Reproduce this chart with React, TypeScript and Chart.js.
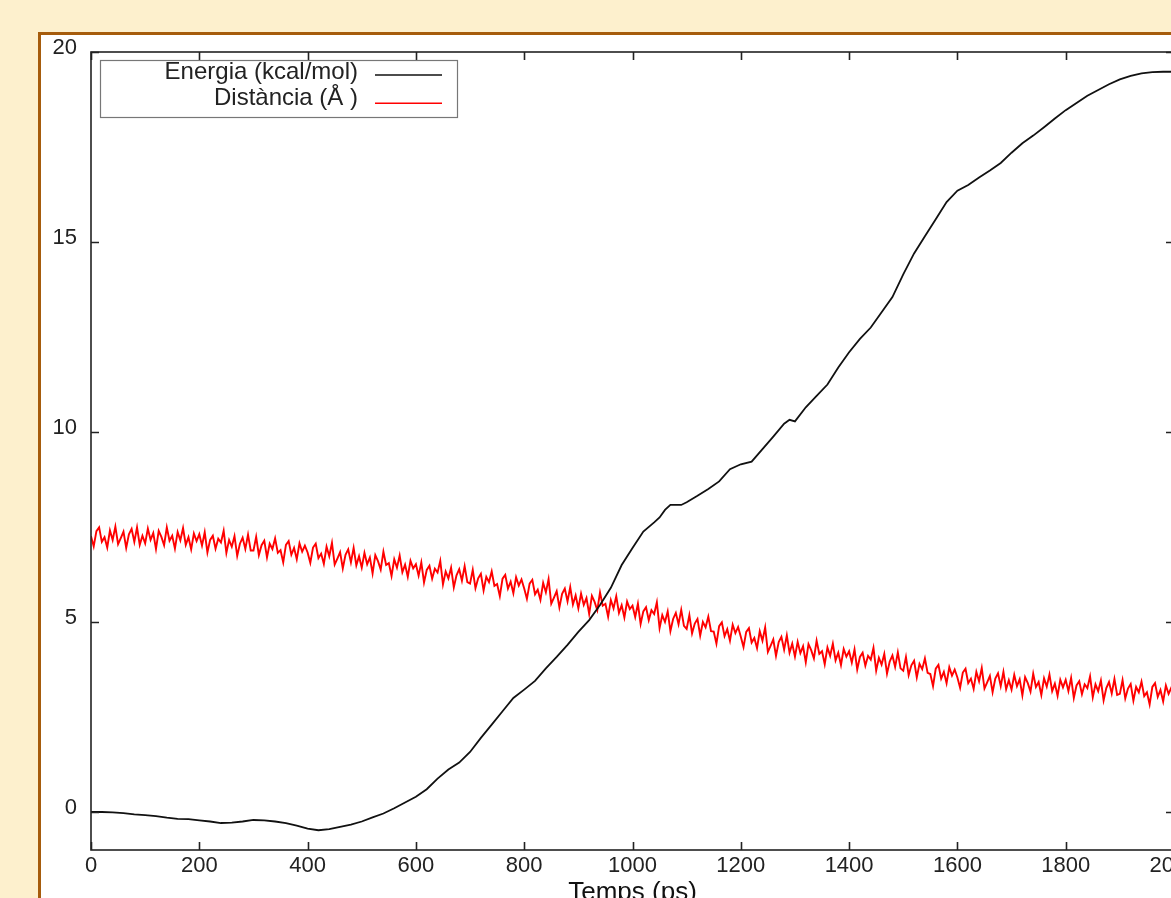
import React, { useEffect, useRef } from 'react';
import { Chart, registerables } from 'chart.js';

Chart.register(...registerables);

// ---------- data ----------
const SERIES_LABELS = ['Energia (kcal/mol)', 'Distància (Å )'];
const X_TITLE = 'Temps (ps)';
const X_TICKS = [0, 200, 400, 600, 800, 1000, 1200, 1400, 1600, 1800, 2000];
const Y_TICKS = [0, 5, 10, 15, 20];

const TIME_E = [
  0, 20, 40, 60, 80, 100, 120, 140, 160, 180,
  200, 220, 240, 260, 280, 300, 320, 340, 360, 380,
  400, 420, 440, 460, 480, 500, 520, 540, 560, 580,
  600, 620, 640, 660, 680, 700, 720, 740, 760, 780,
  800, 820, 840, 860, 880, 900, 920, 940, 960, 980,
  1000, 1020, 1040, 1050, 1060, 1070, 1090, 1100, 1120, 1140,
  1160, 1180, 1200, 1220, 1240, 1260, 1280, 1290, 1300, 1320,
  1340, 1360, 1380, 1400, 1420, 1440, 1460, 1480, 1500, 1520,
  1540, 1560, 1580, 1600, 1620, 1640, 1660, 1680, 1700, 1720,
  1740, 1760, 1780, 1800, 1820, 1840, 1860, 1880, 1900, 1920,
  1940, 1960, 1980, 2000,
];
const ENERGY = [
  0.0, 0.0, -0.01, -0.03, -0.06, -0.08, -0.11, -0.15, -0.18, -0.19,
  -0.22, -0.25, -0.29, -0.28, -0.25, -0.21, -0.22, -0.25, -0.29, -0.36,
  -0.44, -0.48, -0.45, -0.39, -0.33, -0.25, -0.14, -0.04, 0.10, 0.25,
  0.40, 0.60, 0.88, 1.12, 1.30, 1.58, 1.95, 2.30, 2.65, 3.00,
  3.22, 3.45, 3.78, 4.08, 4.40, 4.74, 5.05, 5.45, 5.90, 6.50,
  6.95, 7.38, 7.62, 7.75, 7.95, 8.08, 8.08, 8.15, 8.32, 8.50,
  8.70, 9.02, 9.15, 9.22, 9.55, 9.88, 10.22, 10.32, 10.28, 10.65,
  10.95, 11.25, 11.70, 12.10, 12.45, 12.75, 13.15, 13.55, 14.15, 14.70,
  15.15, 15.60, 16.05, 16.35, 16.50, 16.70, 16.88, 17.08, 17.35, 17.60,
  17.80, 18.02, 18.25, 18.47, 18.66, 18.85, 19.00, 19.15, 19.28, 19.37,
  19.44, 19.47, 19.48, 19.48,
];

// distance sampled every 5 ps from 0 to 2000 ps
const DIST_STEP_PS = 5;
const DISTANCE = [
  7.26, 6.99, 7.39, 7.49, 7.11, 7.23, 6.96, 7.41, 7.16, 7.51, 7.05, 7.21, 7.38, 6.95, 7.31, 7.45, 7.11, 7.49, 7.03, 7.27,
  7.07, 7.46, 7.16, 7.34, 6.92, 7.40, 7.24, 7.02, 7.49, 7.14, 7.27, 6.93, 7.37, 7.15, 7.47, 7.03, 7.23, 6.91, 7.33, 7.13,
  7.31, 7.01, 7.36, 6.83, 7.16, 7.27, 6.93, 7.19, 7.09, 7.40, 6.82, 7.16, 6.98, 7.26, 6.74, 7.06, 7.22, 6.92, 7.30, 6.88,
  6.88, 7.24, 6.76, 7.02, 7.14, 6.70, 7.06, 6.92, 7.20, 6.82, 6.89, 6.57, 7.03, 7.13, 6.77, 6.95, 6.65, 7.07, 6.85, 7.01,
  6.83, 6.56, 6.96, 7.06, 6.68, 6.80, 6.53, 6.98, 6.73, 7.08, 6.51, 6.67, 6.84, 6.41, 6.77, 6.91, 6.57, 6.95, 6.49, 6.73,
  6.43, 6.82, 6.52, 6.70, 6.28, 6.76, 6.60, 6.38, 6.85, 6.50, 6.55, 6.21, 6.65, 6.43, 6.75, 6.31, 6.51, 6.19, 6.61, 6.41,
  6.52, 6.22, 6.57, 6.04, 6.37, 6.48, 6.14, 6.40, 6.30, 6.61, 5.99, 6.33, 6.15, 6.43, 5.91, 6.23, 6.39, 6.09, 6.47, 6.05,
  6.01, 6.37, 5.89, 6.15, 6.27, 5.83, 6.19, 6.05, 6.33, 5.95, 6.00, 5.68, 6.14, 6.24, 5.88, 6.06, 5.76, 6.18, 5.96, 6.12,
  5.88, 5.61, 6.01, 6.11, 5.73, 5.85, 5.58, 6.03, 5.78, 6.13, 5.48, 5.64, 5.81, 5.38, 5.74, 5.88, 5.54, 5.92, 5.46, 5.70,
  5.36, 5.75, 5.45, 5.63, 5.21, 5.69, 5.53, 5.31, 5.78, 5.43, 5.48, 5.14, 5.58, 5.36, 5.68, 5.24, 5.44, 5.12, 5.54, 5.34,
  5.43, 5.13, 5.48, 4.95, 5.28, 5.39, 5.05, 5.31, 5.21, 5.52, 4.84, 5.18, 5.00, 5.28, 4.76, 5.08, 5.24, 4.94, 5.32, 4.90,
  4.82, 5.18, 4.70, 4.96, 5.08, 4.64, 5.00, 4.86, 5.14, 4.76, 4.75, 4.43, 4.89, 4.99, 4.63, 4.81, 4.51, 4.93, 4.71, 4.87,
  4.61, 4.34, 4.74, 4.84, 4.46, 4.58, 4.31, 4.76, 4.51, 4.86, 4.21, 4.37, 4.54, 4.11, 4.47, 4.61, 4.27, 4.65, 4.19, 4.43,
  4.09, 4.48, 4.18, 4.36, 3.94, 4.42, 4.26, 4.04, 4.51, 4.16, 4.23, 3.89, 4.33, 4.11, 4.43, 3.99, 4.19, 3.87, 4.29, 4.09,
  4.23, 3.93, 4.28, 3.75, 4.08, 4.19, 3.85, 4.11, 4.01, 4.32, 3.72, 4.06, 3.88, 4.16, 3.64, 3.96, 4.12, 3.82, 4.20, 3.78,
  3.72, 4.08, 3.60, 3.86, 3.98, 3.54, 3.90, 3.76, 4.04, 3.66, 3.63, 3.31, 3.77, 3.87, 3.51, 3.69, 3.39, 3.81, 3.59, 3.75,
  3.54, 3.27, 3.67, 3.77, 3.39, 3.51, 3.24, 3.69, 3.44, 3.79, 3.25, 3.41, 3.58, 3.15, 3.51, 3.65, 3.31, 3.69, 3.23, 3.47,
  3.22, 3.61, 3.31, 3.49, 3.07, 3.55, 3.39, 3.17, 3.64, 3.29, 3.42, 3.08, 3.52, 3.30, 3.62, 3.18, 3.38, 3.06, 3.48, 3.28,
  3.48, 3.18, 3.53, 3.00, 3.33, 3.44, 3.10, 3.36, 3.26, 3.57, 3.02, 3.36, 3.18, 3.46, 2.94, 3.26, 3.42, 3.12, 3.50, 3.08,
  3.11, 3.47, 2.99, 3.25, 3.37, 2.93, 3.29, 3.15, 3.43, 3.05, 3.15, 2.83, 3.29, 3.39, 3.03, 3.21, 2.91, 3.33, 3.11, 3.27,
  3.10,
];

const SERIES_COLORS = ['#111111', '#ff0000'];
const FONT_FAMILY = '"Liberation Sans", Arial, sans-serif';

// ---------- plugin: gnuplot-like frame, inward ticks and legend ----------
const gnuplotFrame = {
  id: 'gnuplotFrame',
  afterDatasetsDraw(chart: any) {
    const { ctx, chartArea: a, scales } = chart;
    const xs = scales.x;
    const ys = scales.y;
    ctx.save();
    ctx.strokeStyle = '#222';
    ctx.lineWidth = 1.6;
    ctx.strokeRect(a.left, a.top, a.right - a.left, a.bottom - a.top);

    ctx.beginPath();
    const L = 8;
    X_TICKS.forEach((v) => {
      const x = Math.round(xs.getPixelForValue(v)) + 0.5;
      ctx.moveTo(x, a.bottom);
      ctx.lineTo(x, a.bottom - L);
      ctx.moveTo(x, a.top);
      ctx.lineTo(x, a.top + L);
    });
    Y_TICKS.forEach((v) => {
      const y = Math.round(ys.getPixelForValue(v)) + 0.5;
      ctx.moveTo(a.left, y);
      ctx.lineTo(a.left + L, y);
      ctx.moveTo(a.right, y);
      ctx.lineTo(a.right - L, y);
    });
    ctx.stroke();

    // legend box
    const bx = a.left + 9;
    const by = a.top + 8;
    const bw = 357;
    const bh = 57;
    ctx.fillStyle = '#fff';
    ctx.fillRect(bx, by, bw, bh);
    ctx.strokeStyle = '#777';
    ctx.lineWidth = 1.2;
    ctx.strokeRect(bx + 0.5, by + 0.5, bw, bh);

    ctx.font = '24px ' + FONT_FAMILY;
    ctx.textAlign = 'right';
    ctx.textBaseline = 'alphabetic';
    const rows = [
      { base: by + 18.5, line: by + 15 },
      { base: by + 45, line: by + 43.3 },
    ];
    chart.data.datasets.forEach((ds: any, i: number) => {
      const r = rows[i];
      ctx.fillStyle = '#222';
      ctx.fillText(ds.label, bx + 258, r.base);
      ctx.strokeStyle = ds.borderColor;
      ctx.lineWidth = 1.6;
      ctx.beginPath();
      ctx.moveTo(bx + 275, r.line);
      ctx.lineTo(bx + 342, r.line);
      ctx.stroke();
    });
    ctx.restore();
  },
};

export default function App() {
  const canvasRef = useRef<HTMLCanvasElement | null>(null);

  useEffect(() => {
    const canvas = canvasRef.current;
    if (!canvas) return;

    const energyPts = TIME_E.map((t, i) => ({ x: t, y: ENERGY[i] }));
    const distPts = DISTANCE.map((d, i) => ({ x: i * DIST_STEP_PS, y: d }));

    const chart = new Chart(canvas, {
      type: 'line',
      data: {
        datasets: [
          {
            label: SERIES_LABELS[0],
            data: energyPts,
            borderColor: SERIES_COLORS[0],
            borderWidth: 1.8,
            pointRadius: 0,
            tension: 0,
            order: 1,
          },
          {
            label: SERIES_LABELS[1],
            data: distPts,
            borderColor: SERIES_COLORS[1],
            borderWidth: 1.9,
            pointRadius: 0,
            tension: 0,
            order: 2,
          },
        ],
      },
      options: {
        responsive: false,
        animation: false,
        events: [],
        layout: { padding: { left: 0, top: 17, right: 40, bottom: 0 } },
        plugins: {
          legend: { display: false },
          tooltip: { enabled: false },
        },
        scales: {
          x: {
            type: 'linear',
            min: 0,
            max: 2000,
            grid: { display: false, drawTicks: false },
            border: { display: false },
            afterBuildTicks: (s: any) => {
              s.ticks = X_TICKS.map((v) => ({ value: v }));
            },
            afterFit: (s: any) => {
              s.height = 65;
              s.paddingLeft = 0;
              s.paddingRight = 0;
            },
            ticks: {
              autoSkip: false,
              maxRotation: 0,
              padding: 3,
              color: '#222',
              font: { family: FONT_FAMILY, size: 22 },
              callback: (v: any) => String(v),
            },
            title: {
              display: true,
              text: X_TITLE,
              color: '#111',
              font: { family: FONT_FAMILY, size: 26 },
              padding: { top: 0, bottom: 7 },
            },
          },
          y: {
            type: 'linear',
            min: -1,
            max: 20,
            grid: { display: false, drawTicks: false },
            border: { display: false },
            afterBuildTicks: (s: any) => {
              s.ticks = Y_TICKS.map((v) => ({ value: v }));
            },
            afterFit: (s: any) => {
              s.width = 50;
              s.paddingTop = 0;
              s.paddingBottom = 0;
            },
            ticks: {
              padding: 14,
              labelOffset: -4,
              color: '#222',
              font: { family: FONT_FAMILY, size: 22 },
              callback: (v: any) => String(v),
            },
          },
        },
      },
      plugins: [gnuplotFrame],
    });

    return () => chart.destroy();
  }, []);

  return (
    <div
      style={{
        position: 'fixed',
        left: 0,
        top: 0,
        width: '100vw',
        height: '100vh',
        background: '#fdf0cd',
        overflow: 'hidden',
      }}
    >
      <div
        style={{
          position: 'absolute',
          left: 38,
          top: 32,
          width: 1300,
          height: 1000,
          borderLeft: '3px solid #a65c0c',
          borderTop: '3px solid #a65c0c',
          background: '#ffffff',
        }}
      >
        <canvas
          ref={canvasRef}
          width={1173}
          height={880}
          style={{ position: 'absolute', left: 0, top: 0, width: 1173, height: 880 }}
        />
      </div>
    </div>
  );
}
